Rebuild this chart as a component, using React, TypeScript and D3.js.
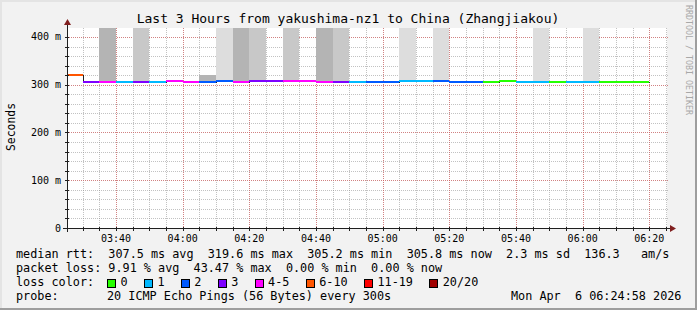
import React from 'react';
import * as d3 from 'd3';

// ---------- data ----------
const title = 'Last 3 Hours from yakushima-nz1 to China (Zhangjiakou)';
const yAxisTitle = 'Seconds';
const watermark = 'RRDTOOL / TOBI OETIKER';

const windowStart = '03:25:18';
const windowEnd = '06:25:18';
const stepMinutes = 5;

// end time of every 5 minute sample
const sampleEnds = [
  '03:30', '03:35', '03:40', '03:45', '03:50', '03:55', '04:00', '04:05', '04:10', '04:15',
  '04:20', '04:25', '04:30', '04:35', '04:40', '04:45', '04:50', '04:55', '05:00', '05:05',
  '05:10', '05:15', '05:20', '05:25', '05:30', '05:35', '05:40', '05:45', '05:50', '05:55',
  '06:00', '06:05', '06:10', '06:15', '06:20',
];
// median rtt (ms)
const medianRtt = [
  319.6, 305.8, 305.8, 305.8, 305.8, 305.8, 308.0, 305.8, 305.8, 307.6,
  305.8, 307.6, 307.6, 307.6, 307.6, 305.8, 305.8, 305.8, 305.8, 305.8,
  307.6, 307.6, 307.6, 305.8, 305.8, 305.8, 308.5, 305.8, 305.2, 305.8,
  305.8, 305.2, 305.8, 305.8, 305.8,
];
// lost pings out of 20
const lossCount = [
  8, 3, 4, 1, 3, 1, 4, 4, 2, 2,
  4, 3, 3, 4, 4, 5, 3, 1, 2, 2,
  1, 1, 2, 2, 2, 0, 0, 1, 1, 0,
  1, 1, 0, 0, 0,
];
// smoke (ping spread) lower / upper bound in ms, and its density level (0 = none)
const smokeLo = [
  319.6, 0, 305.8, 0, 305.8, 305.8, 0, 305.8, 305.8, 307.6,
  305.8, 307.6, 0, 307.6, 0, 305.8, 305.8, 0, 0, 0,
  307.6, 0, 307.6, 0, 0, 0, 305.8, 0, 305.2, 305.8,
  0, 305.2, 0, 0, 0,
];
const smokeHi = [
  322.0, 0, 440, 0, 440, 308.0, 0, 308.0, 320.0, 440,
  440, 440, 0, 440, 0, 440, 440, 0, 0, 0,
  440, 0, 440, 0, 0, 0, 308.5, 0, 440, 308.0,
  0, 440, 0, 0, 0,
];
const smokeLevel = [
  4, 0, 3, 0, 2, 2, 0, 3, 3, 1,
  3, 2, 0, 2, 0, 3, 2, 0, 0, 0,
  1, 0, 1, 0, 0, 0, 2, 0, 1, 2,
  0, 1, 0, 0, 0,
];

const yMax = 418.8;
const yTickValues = [0, 100, 200, 300, 400];
const yTickLabels = ['0', '100 m', '200 m', '300 m', '400 m'];

const lossBuckets = ['0', '1', '2', '3', '4-5', '6-10', '11-19', '20/20'];
const lossBucketMax = [0, 1, 2, 3, 5, 10, 19, 20];

const rttLine = 'median rtt:  307.5 ms avg  319.6 ms max  305.2 ms min  305.8 ms now  2.3 ms sd  136.3   am/s';
const lossLine = 'packet loss: 9.91 % avg  43.47 % max  0.00 % min  0.00 % now';
const lossColorLabel = 'loss color:';
const probeLabel = 'probe:';
const probeText = '20 ICMP Echo Pings (56 Bytes) every 300s';
const dateText = 'Mon Apr  6 06:24:58 2026';

// ---------- styles ----------
const lossColors = ['#26ff00', '#00b8ff', '#0059ff', '#7e00ff', '#ff00ff', '#ff5500', '#ff0000', '#a00000'];
const smokeColors = ['none', '#dddddd', '#c8c8c8', '#b4b4b4', '#9a9a9a'];
const MONO = '"DejaVu Sans Mono", monospace';

const W = 697;
const H = 310;
const L = 67, R = 667, T = 28, B = 228;

const parseT = (s: string) => {
  const p = s.split(':').map(Number);
  return new Date(2026, 3, 6, p[0], p[1], p[2] || 0);
};

export default function App() {
  const x = d3.scaleTime().domain([parseT(windowStart), parseT(windowEnd)]).range([L, R]);
  const y = d3.scaleLinear().domain([0, yMax]).range([B, T]);

  const minorX = x.ticks(d3.timeMinute.every(5) as any);
  const majorX = x.ticks(d3.timeMinute.every(20) as any);
  const minorY = d3.range(0, yMax, 20);
  const majorY = yTickValues;
  const fmt = d3.timeFormat('%H:%M');

  const samples = sampleEnds.map((e, i) => {
    const end = parseT(e);
    const start = d3.timeMinute.offset(end, -stepMinutes);
    const bucket = lossBucketMax.findIndex((m) => lossCount[i] <= m);
    return { start, end, v: medianRtt[i], bucket, lo: smokeLo[i], hi: smokeHi[i], lvl: smokeLevel[i] };
  });

  const stepPts: [number, number][] = [];
  samples.forEach((s) => {
    stepPts.push([Math.round(x(s.start)) + 0.5, Math.round(y(s.v)) + 0.5]);
    stepPts.push([Math.round(x(s.end)) + 0.5, Math.round(y(s.v)) + 0.5]);
  });
  const stepPath = d3.line()(stepPts) || '';

  // legend layout
  const cw = 11.8 * 0.602;
  let lx = 107;
  const legendItems = lossBuckets.map((b, i) => {
    const item = { b, i, bx: lx, tx: lx + 13.5 };
    lx = lx + 13.5 + b.length * cw + 16.3;
    return item;
  });

  return (
    <svg width={W} height={H} style={{ position: 'absolute', left: 0, top: 0 }} fontFamily={MONO}>
      <defs>
        <clipPath id="plotclip">
          <rect x={L} y={T} width={R - L} height={B - T} />
        </clipPath>
      </defs>
      <rect x={0} y={0} width={W} height={H} fill="#f2f2f2" />
      {/* frame shading */}
      <rect x={0} y={0} width={W} height={2} fill="#e4e4e4" />
      <rect x={0} y={0} width={2} height={H} fill="#e4e4e4" />
      <rect x={0} y={H - 2} width={W} height={2} fill="#9e9e9e" />
      <rect x={W - 2} y={0} width={2} height={H} fill="#9e9e9e" />

      <rect x={L} y={T} width={R - L} height={B - T} fill="#ffffff" />

      {/* grid */}
      <g shapeRendering="crispEdges" strokeDasharray="1,1" strokeWidth={1}>
        {minorX.map((d, i) => (
          <line key={'mx' + i} x1={Math.round(x(d)) + 0.5} x2={Math.round(x(d)) + 0.5} y1={T} y2={B} stroke="rgba(143,143,143,0.55)" />
        ))}
        {minorY.map((v, i) => (
          <line key={'my' + i} x1={L} x2={R + 2} y1={Math.round(y(v)) + 0.5} y2={Math.round(y(v)) + 0.5} stroke="rgba(143,143,143,0.55)" />
        ))}
        {majorX.map((d, i) => (
          <line key={'Mx' + i} x1={Math.round(x(d)) + 0.5} x2={Math.round(x(d)) + 0.5} y1={T} y2={B} stroke="rgba(222,79,79,0.55)" />
        ))}
        {majorY.map((v, i) => (
          <line key={'My' + i} x1={L} x2={R + 2} y1={Math.round(y(v)) + 0.5} y2={Math.round(y(v)) + 0.5} stroke="rgba(222,79,79,0.55)" />
        ))}
      </g>

      {/* smoke + median */}
      <g clipPath="url(#plotclip)" shapeRendering="crispEdges">
        {samples.map((s, i) =>
          s.lvl > 0 ? (
            <rect
              key={'s' + i}
              x={Math.round(x(s.start))}
              width={Math.round(x(s.end)) - Math.round(x(s.start))}
              y={Math.round(y(s.hi))}
              height={Math.round(y(s.lo)) - Math.round(y(s.hi))}
              fill={smokeColors[s.lvl]}
            />
          ) : null
        )}
        <path d={stepPath} fill="none" stroke="#202020" strokeWidth={1} />
        {samples.map((s, i) => (
          <line
            key={'m' + i}
            x1={Math.round(x(s.start))}
            x2={Math.round(x(s.end))}
            y1={Math.round(y(s.v))}
            y2={Math.round(y(s.v))}
            stroke={lossColors[s.bucket]}
            strokeWidth={2}
          />
        ))}
      </g>

      {/* axes */}
      <g shapeRendering="crispEdges" stroke="#1f1f1f">
        <line x1={L - 4} x2={R + 4} y1={B + 0.5} y2={B + 0.5} />
        <line x1={L + 0.5} x2={L + 0.5} y1={B + 4} y2={T - 4} />
        {minorX.map((d, i) => (
          <line key={'tx' + i} x1={Math.round(x(d)) + 0.5} x2={Math.round(x(d)) + 0.5} y1={B - 1} y2={B + 3} />
        ))}
        {minorY.map((v, i) => (
          <line key={'ty' + i} x1={L - 2} x2={L + 2} y1={Math.round(y(v)) + 0.5} y2={Math.round(y(v)) + 0.5} />
        ))}
      </g>
      <polygon points={`${R + 3},${B - 3} ${R + 3},${B + 4} ${R + 9},${B + 0.5}`} fill="#801f1f" />
      <polygon points={`${L - 3},${T - 3} ${L + 4},${T - 3} ${L + 0.5},${T - 9}`} fill="#801f1f" />

      {/* tick labels */}
      {majorX.map((d, i) => (
        <text key={'lx' + i} x={x(d)} y={242} fontSize={10} textAnchor="middle" fill="#000">
          {fmt(d)}
        </text>
      ))}
      {yTickValues.map((v, i) => (
        <text key={'ly' + i} x={61} y={y(v) + 3.5} fontSize={10} textAnchor="end" fill="#000" xmlSpace="preserve">
          {yTickLabels[i]}
        </text>
      ))}

      {/* titles */}
      <text x={348} y={23} fontSize={13} textAnchor="middle" fill="#000">
        {title}
      </text>
      <text transform={`translate(15,127) rotate(-90)`} fontSize={11.4} textAnchor="middle" fill="#000">
        {yAxisTitle}
      </text>
      <text transform={`translate(686,5) rotate(90)`} fontSize={8.3} fill="#a8a8a8">
        {watermark}
      </text>

      {/* legend */}
      <g fontSize={11.8} fill="#000">
        <text x={16} y={258} xmlSpace="preserve">{rttLine}</text>
        <text x={16} y={272} xmlSpace="preserve">{lossLine}</text>
        <text x={16} y={286} xmlSpace="preserve">{lossColorLabel}</text>
        {legendItems.map((it) => (
          <g key={'lg' + it.i}>
            <rect x={it.bx + 0.5} y={279.5} width={8} height={8} fill={lossColors[it.i]} stroke="#000" strokeWidth={1} shapeRendering="crispEdges" />
            <text x={it.tx} y={286} xmlSpace="preserve">{it.b}</text>
          </g>
        ))}
        <text x={16} y={300} xmlSpace="preserve">{probeLabel}</text>
        <text x={107} y={300} xmlSpace="preserve">{probeText}</text>
        <text x={511} y={300} xmlSpace="preserve">{dateText}</text>
      </g>
    </svg>
  );
}
